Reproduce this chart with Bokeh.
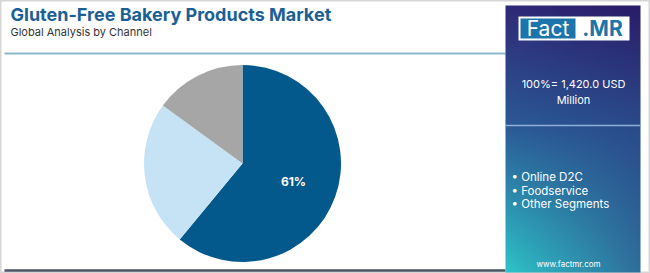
import numpy as np
from bokeh.plotting import figure
from bokeh.models import Range1d, ColumnDataSource
from bokeh.core.properties import value
from bokeh.embed import file_html
from bokeh.resources import INLINE

# ---- data ----
categories = ["Online D2C", "Foodservice", "Other Segments"]
shares = [61, 24, 15]
colors = ["#03588c", "#c5e3f5", "#a6a6a6"]
title = "Gluten-Free Bakery Products Market"
subtitle = "Global Analysis by Channel"
total_text = ["100%= 1,420.0 USD", "Million"]

W, H = 650, 273
def Y(y):
    return H - y

p = figure(width=W, height=H, x_range=Range1d(0, W), y_range=Range1d(0, H),
           output_backend="svg", toolbar_location=None, min_border=0)
p.axis.visible = False
p.grid.visible = False
p.outline_line_color = "#d6d6d6"
p.outline_line_width = 2
p.background_fill_color = "white"

FONT = value("Inter")

# ---- pie ----
cx, cy, R = 242, 163, 98.5
vals = np.array(shares, dtype=float)
frac = vals / vals.sum()
cum = np.concatenate([[0], np.cumsum(frac)])
start = np.pi / 2 - cum[:-1] * 2 * np.pi
end = np.pi / 2 - cum[1:] * 2 * np.pi
src = ColumnDataSource(dict(start=start, end=end, color=colors, cat=categories))
p.wedge(x=cx, y=Y(cy), radius=R, start_angle="start", end_angle="end",
        direction="clock", fill_color="color", line_color=None, source=src)
mid = (start[0] + end[0]) / 2
p.text(x=[cx + 0.55 * R * np.cos(mid)], y=[Y(cy) + 0.55 * R * np.sin(mid)],
       text=[f"{shares[0]}%"], text_color="white", text_font=FONT,
       text_font_style="bold", text_font_size="12px",
       text_align="center", text_baseline="middle")

# ---- titles ----
p.text(x=[10], y=[Y(14)], text=[title], text_color="#1b5f95", text_font=FONT,
       text_font_style="bold", text_font_size="18px", text_baseline="middle")
p.text(x=[10], y=[Y(31)], text=[subtitle], text_color="#333333", text_font=FONT,
       text_font_size="11px", text_baseline="middle")

# ---- lines ----
p.segment(x0=[4], y0=[Y(53)], x1=[505], y1=[Y(53)], line_color="#8db7cb", line_width=2)
p.segment(x0=[4], y0=[Y(270)], x1=[505], y1=[Y(270)], line_color="#4b5565", line_width=2.5)

# ---- right panel gradient ----
px0, px1, py0, py1 = 505, 640, 5, 272
pw, ph = px1 - px0, py1 - py0
def hexrgb(h):
    h = h.lstrip("#")
    return np.array([int(h[i:i + 2], 16) for i in (0, 2, 4)], dtype=float)
vs = np.linspace(0, 1, ph)
def column(stops):
    pos = [s[0] for s in stops]
    cols = np.array([hexrgb(s[1]) for s in stops])
    return np.stack([np.interp(vs, pos, cols[:, k]) for k in range(3)], axis=1)
left = column([(0, "#2f2a78"), (0.45, "#2b5a96"), (1, "#2ec4c8")])
right = column([(0, "#2a1c68"), (0.45, "#2a4a8a"), (1, "#2f6e9c")])
u = np.linspace(0, 1, pw)[None, :, None]
rgb = left[:, None, :] * (1 - u) + right[:, None, :] * u  # row 0 = top
rgb = rgb[::-1]  # bokeh row 0 = bottom
img = np.empty((ph, pw), dtype=np.uint32)
view = img.view(dtype=np.uint8).reshape((ph, pw, 4))
for k in range(3):
    view[:, :, k] = rgb[:, :, k].astype(np.uint8)
view[:, :, 3] = 255
p.image_rgba(image=[img], x=px0, y=Y(py1), dw=pw, dh=ph)

# logo
p.quad(left=[518], right=[629], top=[Y(16)], bottom=[Y(40)], fill_color="white", line_color=None)
p.quad(left=[520], right=[575], top=[Y(18)], bottom=[Y(38)], fill_color="#1b75aa", line_color=None)
p.text(x=[547.5], y=[Y(28)], text=["Fact"], text_color="white", text_font=FONT,
       text_font_size="21px", text_align="center", text_baseline="middle")
p.text(x=[602], y=[Y(28)], text=[".MR"], text_color="#1b75aa", text_font=FONT,
       text_font_style="bold", text_font_size="21px", text_align="center", text_baseline="middle")

# total
p.text(x=[573, 573], y=[Y(83), Y(99)], text=total_text, text_color="white", text_font=FONT,
       text_font_size="11px", text_align="center", text_baseline="middle")
p.segment(x0=[505], y0=[Y(125)], x1=[640], y1=[Y(125)], line_color="#8fb0d8", line_width=1.5)

# legend bullets
p.text(x=[511] * 3, y=[Y(176), Y(190), Y(203)], text=["• " + c for c in categories],
       text_color="white", text_font=FONT, text_font_size="11.5px", text_baseline="middle")

p.text(x=[568], y=[Y(263)], text=["www.factmr.com"], text_color="white", text_font=FONT,
       text_font_size="8px", text_align="center", text_baseline="middle")

open("out.html", "w").write(file_html(p, INLINE))
